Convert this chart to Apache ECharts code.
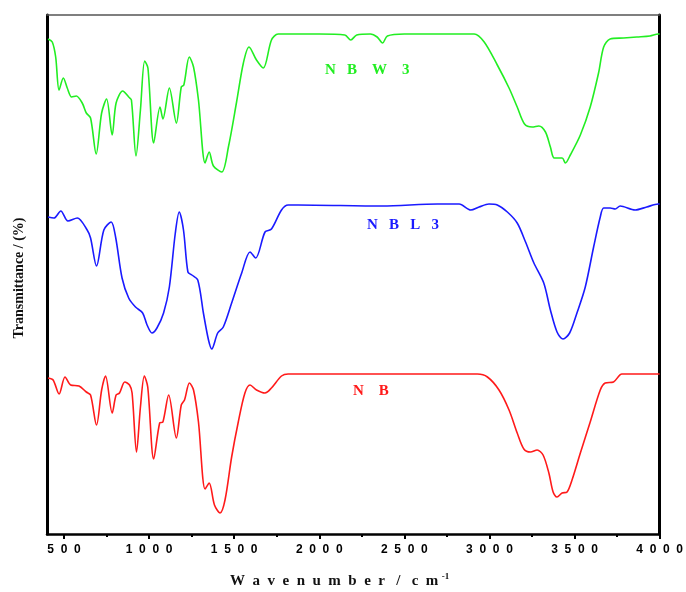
<!DOCTYPE html>
<html>
<head>
<meta charset="utf-8">
<script src="https://cdn.jsdelivr.net/npm/echarts@6/dist/echarts.min.js"></script>
<style>
  html, body { margin: 0; padding: 0; background: #fff; }
  #chart { width: 686px; height: 592px; }
</style>
</head>
<body>
<div id="chart"></div>
<script>
// wavenumber (cm-1) and offset transmittance for each spectrum
const wnNBW3 = [406, 431, 451, 471, 496, 519, 545, 572, 607, 631, 656, 689, 721, 750, 783, 806, 845, 880, 896, 923, 949, 974, 993, 1027, 1064, 1081, 1119, 1160, 1189, 1204, 1236, 1261, 1290, 1329, 1353, 1378, 1427, 1466, 1514, 1554, 1587, 1631, 1671, 1719, 1758, 1875, 2000, 2150, 2185, 2220, 2300, 2340, 2372, 2400, 2500, 2700, 2910, 2969, 3046, 3115, 3163, 3206, 3251, 3290, 3329, 3358, 3381, 3427, 3446, 3475, 3534, 3592, 3641, 3671, 3709, 3788, 3866, 3943, 3992, 4000];
const tNBW3 = [495, 492, 477, 444, 456, 446, 437, 438, 431, 421, 416, 380, 421, 435, 399, 431, 443, 437, 434, 378, 424, 473, 466, 391, 427, 415, 446, 411, 447, 449, 477, 467, 434, 371, 382, 368, 362, 387, 432, 471, 487, 474, 466, 494, 500, 500, 500, 499, 494, 499, 500, 497, 491, 498, 500, 500, 500, 492, 469, 446, 427, 410, 407, 408, 402, 387, 376, 376, 371, 379, 399, 427, 461, 487, 495, 496, 497, 498, 500, 500];

const wnNBL3 = [406, 441, 481, 523, 578, 636, 656, 691, 734, 777, 803, 841, 880, 920, 962, 988, 1017, 1046, 1085, 1119, 1154, 1177, 1202, 1228, 1251, 1286, 1319, 1349, 1368, 1403, 1436, 1485, 1544, 1593, 1626, 1681, 1719, 1778, 1817, 1875, 2370, 2695, 2822, 2890, 2939, 2997, 3046, 3105, 3163, 3212, 3261, 3319, 3358, 3397, 3432, 3471, 3514, 3563, 3612, 3651, 3671, 3709, 3739, 3768, 3856, 3924, 3992, 4000];
const tNBL3 = [317, 316, 323, 313, 316, 304, 296, 268, 304, 312, 297, 256, 236, 227, 221, 209, 201, 206, 221, 247, 301, 322, 304, 262, 259, 254, 221, 194, 185, 201, 207, 231, 261, 282, 276, 302, 305, 324, 329, 329, 328, 330, 330, 324, 327, 330, 329, 322, 311, 292, 271, 251, 224, 202, 195, 201, 221, 247, 287, 317, 326, 326, 325, 328, 324, 327, 330, 330];

const wnNB = [406, 436, 471, 506, 539, 588, 631, 656, 691, 721, 744, 783, 806, 826, 857, 885, 900, 926, 949, 972, 992, 1027, 1062, 1081, 1115, 1160, 1189, 1208, 1237, 1261, 1290, 1329, 1353, 1384, 1417, 1446, 1485, 1524, 1563, 1593, 1631, 1681, 1719, 1778, 1817, 1875, 2929, 2988, 3056, 3115, 3163, 3202, 3241, 3280, 3315, 3349, 3374, 3397, 3427, 3456, 3485, 3534, 3592, 3651, 3680, 3729, 3778, 3866, 3992, 4000];
const tNB = [156, 154, 140, 157, 149, 148, 142, 139, 109, 144, 158, 121, 139, 141, 152, 149, 141, 82, 127, 158, 147, 75, 111, 112, 139, 96, 129, 134, 151, 144, 112, 45, 51, 29, 21, 34, 77, 112, 141, 149, 144, 141, 146, 158, 160, 160, 160, 157, 144, 124, 101, 85, 82, 84, 79, 61, 42, 37, 41, 42, 54, 81, 112, 144, 151, 152, 160, 160, 160, 160];

const majorTicks = [500, 1000, 1500, 2000, 2500, 3000, 3500, 4000];
const minorTicks = [750, 1250, 1750, 2250, 2750, 3250, 3750];

const names = ['N   B    W    3', 'N   B   L   3', 'N    B'];
const colors = ['#22ee22', '#1a1aff', '#ff1a1a'];

const zip = (xs, ys) => xs.map((x, i) => [x, ys[i]]);

const chart = echarts.init(document.getElementById('chart'));

const lineSeries = (data, color) => ({
  type: 'line',
  data: data,
  smooth: 0.3,
  symbol: 'none',
  lineStyle: { color: color, width: 1.6 },
  xAxisIndex: 0,
  yAxisIndex: 0
});

chart.setOption({
  animation: false,
  grid: { left: 47, right: 23, top: 15, bottom: 58 },
  xAxis: [
    {
      type: 'value', min: 400, max: 4000, position: 'bottom',
      axisLine: { lineStyle: { color: '#000', width: 2.5 } },
      axisTick: { customValues: majorTicks, length: 5, lineStyle: { color: '#000', width: 2 } },
      axisLabel: {
        customValues: majorTicks,
        formatter: v => String(v).split('').join('  '),
        color: '#000', fontFamily: 'Liberation Sans', fontWeight: 'bold', fontSize: 12, margin: 10
      },
      splitLine: { show: false }
    },
    {
      type: 'value', min: 400, max: 4000, position: 'bottom',
      axisLine: { show: false },
      axisTick: { customValues: minorTicks, length: 3, lineStyle: { color: '#000', width: 2 } },
      axisLabel: { show: false },
      splitLine: { show: false }
    },
    {
      type: 'value', min: 400, max: 4000, position: 'top',
      axisLine: { lineStyle: { color: '#555', width: 1.5 } },
      axisTick: { show: false }, axisLabel: { show: false }, splitLine: { show: false }
    }
  ],
  yAxis: [
    {
      type: 'value', min: 0, max: 519, position: 'left',
      axisLine: { show: true, lineStyle: { color: '#000', width: 3 } },
      axisTick: { show: false }, axisLabel: { show: false }, splitLine: { show: false }
    },
    {
      type: 'value', min: 0, max: 519, position: 'right',
      axisLine: { show: true, lineStyle: { color: '#000', width: 3 } },
      axisTick: { show: false }, axisLabel: { show: false }, splitLine: { show: false }
    }
  ],
  series: [
    lineSeries(zip(wnNBW3, tNBW3), colors[0]),
    lineSeries(zip(wnNBL3, tNBL3), colors[1]),
    lineSeries(zip(wnNB, tNB), colors[2])
  ],
  graphic: [
    { type: 'text', left: 325, top: 63, style: { text: names[0], fill: colors[0], font: 'bold 15px "Liberation Serif"' } },
    { type: 'text', left: 367, top: 218, style: { text: names[1], fill: colors[1], font: 'bold 15px "Liberation Serif"' } },
    { type: 'text', left: 353, top: 384, style: { text: names[2], fill: colors[2], font: 'bold 15px "Liberation Serif"' } },
    {
      type: 'text', left: 230, top: 572,
      style: {
        text: '{t|W  a  v  e  n  u  m  b  e  r   /   c  m} {s|-1}',
        rich: {
          t: { font: 'bold 15px "Liberation Serif"', fill: '#111' },
          s: { font: 'bold 9px "Liberation Serif"', fill: '#111', verticalAlign: 'top', padding: [0, 0, 10, 0] }
        }
      }
    },
    {
      type: 'text', x: 19, y: 278, rotation: Math.PI / 2,
      style: { text: 'Transmittance / (%)', fill: '#111', font: 'bold 14px "Liberation Serif"', align: 'center', verticalAlign: 'middle' }
    }
  ]
});
</script>
</body>
</html>
